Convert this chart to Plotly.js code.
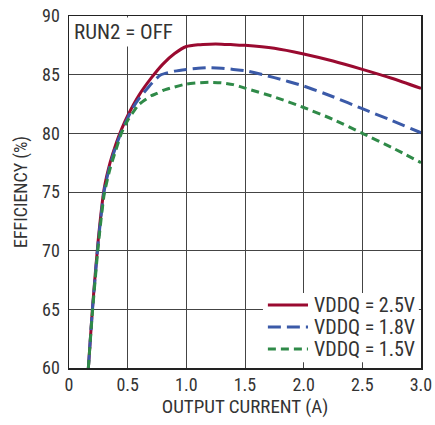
<!DOCTYPE html>
<html><head><meta charset="utf-8">
<script src="https://cdn.plot.ly/plotly-3.0.1.min.js"></script>
<style>body{margin:0;background:#fff}#c{width:435px;height:425px}</style>
</head><body><div id="c"></div>
<script>
const xRed = [0.165,0.2,0.25,0.3,0.35,0.4,0.45,0.5,0.6,0.7,0.8,0.9,1.0,1.1,1.2,1.3,1.4,1.5,1.75,2.0,2.25,2.5,2.75,3.0];
const vddq25 = [60,65.1,71,75.3,77.5,79.1,80.4,81.5,83.3,84.7,85.9,86.8,87.4,87.55,87.6,87.6,87.55,87.5,87.25,86.76,86.16,85.45,84.69,83.83];
const xBlue = [0.165,0.2,0.25,0.3,0.35,0.4,0.45,0.5,0.55,0.6,0.68,0.7,0.78,0.9,1.0,1.1,1.2,1.3,1.4,1.5,1.75,2.0,2.25,2.5,2.75,3.0];
const vddq18 = [60,65,70.8,75.1,77.3,78.9,80.2,81.3,82.27,83.0,83.97,84.2,84.97,85.3,85.45,85.55,85.6,85.55,85.45,85.34,84.75,84.03,83.12,82.1,81.1,80.05];
const xGreen = [0.165,0.2,0.25,0.3,0.35,0.4,0.45,0.5,0.58,0.6,0.7,0.75,0.8,0.9,1.0,1.1,1.2,1.3,1.4,1.5,1.75,2.0,2.25,2.5,2.75,3.0];
const vddq15 = [60,64.8,70.5,74.8,77.0,78.6,80.1,81.1,82.27,82.5,83.2,83.4,83.65,83.95,84.2,84.3,84.35,84.3,84.15,83.85,83.1,82.2,81.19,80.0,78.8,77.5];
const seriesNames = ["VDDQ = 2.5V","VDDQ = 1.8V","VDDQ = 1.5V"];
const xTickVals = [0,0.5,1,1.5,2,2.5,3];
const xTickText = ["0","0.5","1.0","1.5","2.0","2.5","3.0"];
const yTickVals = [60,65,70,75,80,85,90];

const F = '"Liberation Sans Narrow", "Arial Narrow", "Roboto Condensed", Roboto, sans-serif';
const colors = ['#9a0a30','#3b5aa8','#2f8a48'];
const dashes = ['solid','13px,6px','8px,5px'];
const traces = [
  {x:xRed,y:vddq25,name:seriesNames[0],mode:'lines',line:{color:colors[0],width:3,dash:dashes[0],shape:'spline',smoothing:0.6}},
  {x:xBlue,y:vddq18,name:seriesNames[1],mode:'lines',line:{color:colors[1],width:3,dash:dashes[1],shape:'spline',smoothing:0.6}},
  {x:xGreen,y:vddq15,name:seriesNames[2],mode:'lines',line:{color:colors[2],width:3,dash:dashes[2],shape:'spline',smoothing:0.6}}
];
// manual legend (styling only)
const legRows = [0.179,0.1165,0.054];
const shapes = [{type:'rect',xref:'paper',yref:'paper',x0:0.551,x1:0.994,y0:0.016,y1:0.213,
  fillcolor:'#fff',line:{width:0},layer:'above'}];
const annotations = [{text:'RUN2 = OFF',xref:'paper',yref:'paper',x:0,y:1,xanchor:'left',yanchor:'top',
    showarrow:false,bgcolor:'#fff',font:{family:F,size:21,color:'#333'},xshift:2,yshift:-1,borderpad:2}];
seriesNames.forEach((n,i)=>{
  shapes.push({type:'line',xref:'paper',yref:'paper',x0:0.565,x1:0.679,y0:legRows[i],y1:legRows[i],
    line:{color:colors[i],width:3,dash:dashes[i]},layer:'above'});
  annotations.push({text:n,xref:'paper',yref:'paper',x:0.691,y:legRows[i],xanchor:'left',yanchor:'middle',
    showarrow:false,font:{family:F,size:20,color:'#333'}});
});
const layout = {
  width:435,height:425,
  margin:{l:69,r:14,t:16,b:57},
  paper_bgcolor:'#fff',plot_bgcolor:'#fff',
  font:{family:F,color:'#333',size:18},
  showlegend:false,
  xaxis:{range:[0,3],tickvals:xTickVals,ticktext:xTickText,showgrid:true,gridcolor:'#444',gridwidth:1,
    showline:true,linecolor:'#222',linewidth:1.5,mirror:true,zeroline:false,ticks:'',
    tickfont:{family:F,size:18,color:'#333'},
    title:{text:'OUTPUT CURRENT (A)',font:{family:F,size:19,color:'#333'},standoff:4}},
  yaxis:{range:[60,90],tickvals:yTickVals,showgrid:true,gridcolor:'#444',gridwidth:1,
    showline:true,linecolor:'#222',linewidth:1.5,mirror:true,zeroline:false,ticks:'',ticklabelstandoff:4,
    tickfont:{family:F,size:18,color:'#333'},
    title:{text:'EFFICIENCY (%)',font:{family:F,size:18,color:'#333'},standoff:10}},
  shapes:shapes,
  annotations:annotations
};
Plotly.newPlot('c',traces,layout,{displayModeBar:false,staticPlot:true});
</script></body></html>
